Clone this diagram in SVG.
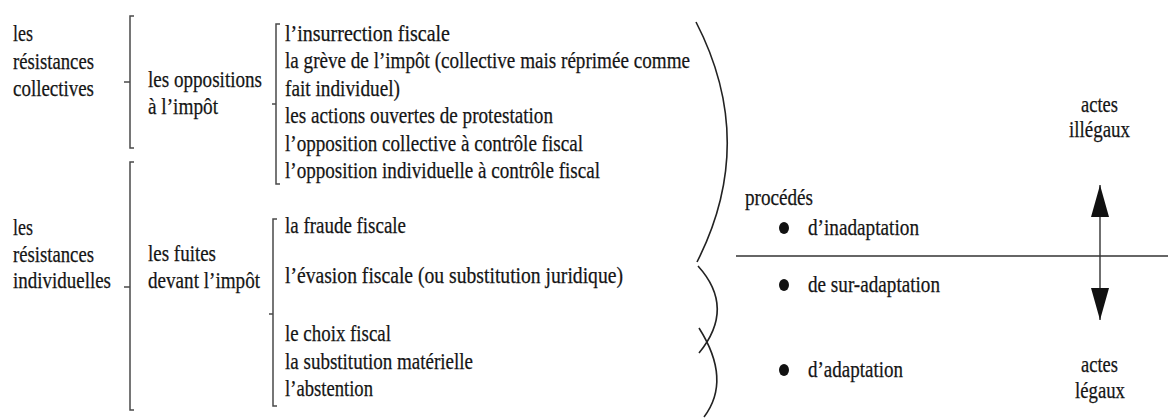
<svg xmlns="http://www.w3.org/2000/svg" width="1168" height="419" viewBox="0 0 1168 419" font-family="Liberation Serif" font-size="23">
<style>
.t{font-family:'Liberation Serif';font-size:23px;fill:#151515;stroke:#151515;stroke-width:0.25}
.br{fill:none;stroke:#4a4a4a;stroke-width:1.5}
.cv{fill:none;stroke:#222;stroke-width:1.6}
.ln{fill:none;stroke:#333;stroke-width:1.4}
.dot{fill:#111;stroke:none}
</style>
<defs>
<marker id="ah" viewBox="0 0 32 18" refX="32" refY="9" markerWidth="32" markerHeight="18" markerUnits="userSpaceOnUse" orient="auto"><path d="M0,0 L32,9 L0,18 Z" fill="#111"/></marker>
</defs>
<rect width="1168" height="419" fill="#fff"/>
<g id="res-collectives" class="t">
<text x="13" y="41" textLength="20" lengthAdjust="spacingAndGlyphs">les</text>
<text x="13" y="68.5" textLength="81" lengthAdjust="spacingAndGlyphs">résistances</text>
<text x="13" y="96" textLength="81" lengthAdjust="spacingAndGlyphs">collectives</text>
</g>
<g id="res-individuelles" class="t">
<text x="13" y="235" textLength="20" lengthAdjust="spacingAndGlyphs">les</text>
<text x="13" y="262" textLength="81" lengthAdjust="spacingAndGlyphs">résistances</text>
<text x="13" y="288" textLength="98" lengthAdjust="spacingAndGlyphs">individuelles</text>
</g>
<g id="oppositions" class="t">
<text x="148" y="87" textLength="114" lengthAdjust="spacingAndGlyphs">les oppositions</text>
<text x="148" y="114" textLength="70" lengthAdjust="spacingAndGlyphs">à l’impôt</text>
</g>
<g id="fuites" class="t">
<text x="148" y="261" textLength="68" lengthAdjust="spacingAndGlyphs">les fuites</text>
<text x="148" y="288" textLength="112" lengthAdjust="spacingAndGlyphs">devant l’impôt</text>
</g>
<g id="liste-oppositions" class="t">
<text x="285" y="41" textLength="165" lengthAdjust="spacingAndGlyphs">l’insurrection fiscale</text>
<text x="285" y="68.4" textLength="405" lengthAdjust="spacingAndGlyphs">la grève de l’impôt (collective mais réprimée comme</text>
<text x="285" y="95.8" textLength="115" lengthAdjust="spacingAndGlyphs">fait individuel)</text>
<text x="285" y="123.2" textLength="268" lengthAdjust="spacingAndGlyphs">les actions ouvertes de protestation</text>
<text x="285" y="150.6" textLength="298" lengthAdjust="spacingAndGlyphs">l’opposition collective à contrôle fiscal</text>
<text x="285" y="178" textLength="315" lengthAdjust="spacingAndGlyphs">l’opposition individuelle à contrôle fiscal</text>
</g>
<g id="liste-fuites" class="t">
<text x="285" y="233" textLength="121" lengthAdjust="spacingAndGlyphs">la fraude fiscale</text>
<text x="285" y="283" textLength="338" lengthAdjust="spacingAndGlyphs">l’évasion fiscale (ou substitution juridique)</text>
<text x="285" y="341" textLength="106" lengthAdjust="spacingAndGlyphs">le choix fiscal</text>
<text x="285" y="369" textLength="188" lengthAdjust="spacingAndGlyphs">la substitution matérielle</text>
<text x="285" y="396" textLength="88" lengthAdjust="spacingAndGlyphs">l’abstention</text>
</g>
<g id="procedes" class="t">
<text x="745" y="205" textLength="68" lengthAdjust="spacingAndGlyphs">procédés</text>
<ellipse class="dot" cx="784" cy="228" rx="5" ry="6"/>
<text x="808" y="235" textLength="111" lengthAdjust="spacingAndGlyphs">d’inadaptation</text>
<ellipse class="dot" cx="784" cy="285" rx="5" ry="6"/>
<text x="808" y="292" textLength="132" lengthAdjust="spacingAndGlyphs">de sur-adaptation</text>
<ellipse class="dot" cx="784" cy="370" rx="5" ry="6"/>
<text x="808" y="377" textLength="95" lengthAdjust="spacingAndGlyphs">d’adaptation</text>
</g>
<g id="actes-illegaux" class="t">
<text x="1081" y="112" textLength="37" lengthAdjust="spacingAndGlyphs">actes</text>
<text x="1069" y="137" textLength="61" lengthAdjust="spacingAndGlyphs">illégaux</text>
</g>
<g id="actes-legaux" class="t">
<text x="1081" y="372" textLength="37" lengthAdjust="spacingAndGlyphs">actes</text>
<text x="1075" y="398" textLength="50" lengthAdjust="spacingAndGlyphs">légaux</text>
</g>
<g id="connectors">
<path class="br" d="M134,16 H130 V148 H134 M130,82 H124"/>
<path class="br" d="M134,162 H130 V410 H134 M130,287 H124"/>
<path class="br" d="M280,24 H276 V184 H280 M276,104 H272"/>
<path class="br" d="M277,219 H273 V406 H277 M273,314 H269"/>
<path class="cv" d="M696,22 Q758,142 697,262"/>
<path class="cv" d="M698,266 Q736,308 699,353"/>
<path class="cv" d="M699,328 Q732,380 704,417"/>
<path class="ln" d="M736,256 H1168"/>
<path class="ln" d="M1100,250 V185" marker-end="url(#ah)"/>
<path class="ln" d="M1100,250 V320" marker-end="url(#ah)"/>
</g>
</svg>
